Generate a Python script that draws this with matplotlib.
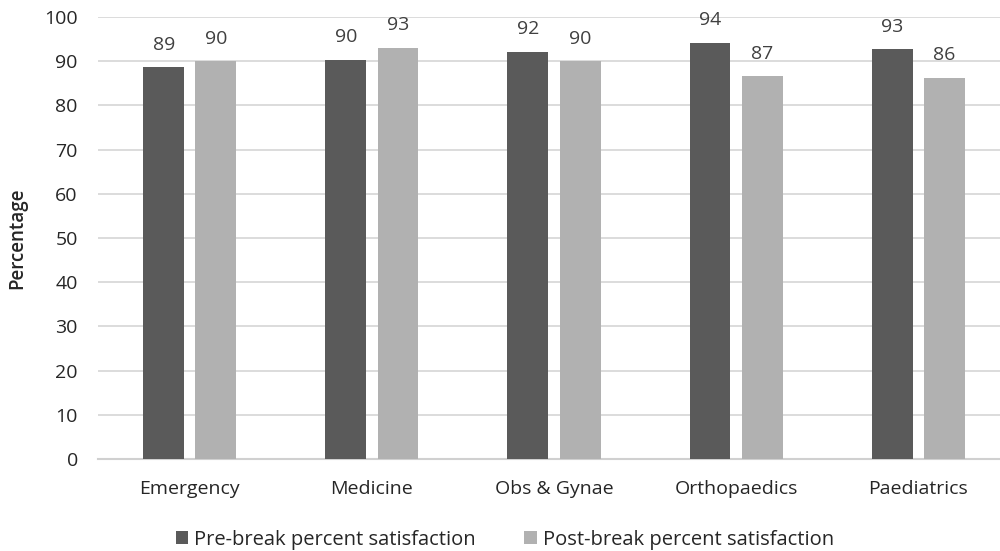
import numpy as np
import matplotlib.pyplot as plt

plt.rcParams['font.family'] = ['Open Sans', 'DejaVu Sans']

# Werte
categories = ['Emergency', 'Medicine', 'Obs & Gynae', 'Orthopaedics', 'Paediatrics']
pre_break = [88.6, 90.4, 92.2, 94.2, 92.7]
post_break = [90.0, 93.1, 90.0, 86.6, 86.3]
pre_labels = [89, 90, 92, 94, 93]
post_labels = [90, 93, 90, 87, 86]

fig = plt.figure(figsize=(10, 5.51), dpi=100)
ax = fig.add_axes([0.098, 0.167, 0.902, 0.802])

x = np.arange(len(categories))
w = 0.225
off = 0.143
b1 = ax.bar(x - off, pre_break, w, color='#5a5a5a', label='Pre-break percent satisfaction', zorder=3)
b2 = ax.bar(x + off, post_break, w, color='#b1b1b1', label='Post-break percent satisfaction', zorder=3)

for bars, labs in ((b1, pre_labels), (b2, post_labels)):
    for rect, lab in zip(bars, labs):
        ax.text(rect.get_x() + rect.get_width() / 2, rect.get_height() + 3.0, str(lab),
                ha='center', va='bottom', fontsize=14, color='#404040')

ax.set_ylim(0, 100)
ax.set_xlim(-0.505, 4.45)
ax.set_yticks(range(0, 101, 10))
ax.yaxis.grid(True, color='#d9d9d9', linewidth=1.3, zorder=0)
ax.set_xticks(x)
ax.set_xticklabels(categories)
ax.tick_params(axis='both', length=0, labelsize=14, labelcolor='#262626')
ax.tick_params(axis='x', pad=15)
ax.tick_params(axis='y', pad=14.5)
for s in ['top', 'right', 'left']:
    ax.spines[s].set_visible(False)
ax.spines['bottom'].set_color('#d0d0d0')
ax.spines['bottom'].set_linewidth(1.5)

ax.set_ylabel('Percentage', fontsize=13.5, fontweight='semibold', color='#262626', labelpad=12)

fig.legend(handles=[b1, b2], loc='center', bbox_to_anchor=(0.505, 0.02), ncol=2,
           frameon=False, fontsize=14.5, handlelength=0.6, handleheight=0.6,
           handletextpad=0.3, columnspacing=2.4, labelcolor='#262626')

fig.savefig('out.png', dpi=100)
